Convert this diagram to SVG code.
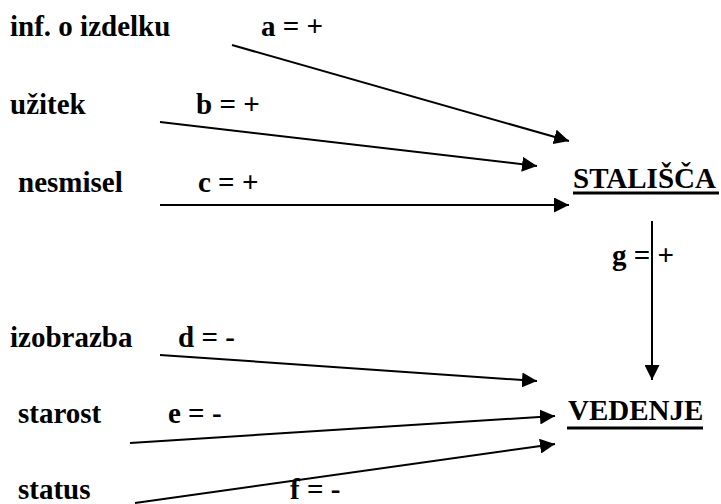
<svg xmlns="http://www.w3.org/2000/svg" width="721" height="504" viewBox="0 0 721 504">
<defs>
<marker id="ah" viewBox="0 0 15 15" refX="15" refY="7.5" markerWidth="15" markerHeight="15" markerUnits="userSpaceOnUse" orient="auto">
<path d="M0,0 L15,7.5 L0,15 Z" fill="#000"/>
</marker>
<style>
text{font-family:'Liberation Serif','DejaVu Serif',serif;font-weight:700;font-size:29px;fill:#000}
.c line{stroke:#000;stroke-width:2;marker-end:url(#ah)}
.ul{stroke:#000;stroke-width:3}
</style>
</defs>
<rect width="721" height="504" fill="#fff"/>
<g id="inf"><text x="10" y="36">inf. o izdelku</text></g>
<g id="uzitek"><text x="10" y="114">užitek</text></g>
<g id="nesmisel"><text x="18" y="192">nesmisel</text></g>
<g id="izobrazba"><text x="10" y="347">izobrazba</text></g>
<g id="starost"><text x="18" y="423">starost</text></g>
<g id="status"><text x="18" y="499">status</text></g>
<g id="stalisca"><text x="573" y="188">STALIŠČA</text><line class="ul" x1="573" y1="193" x2="719" y2="193"/></g>
<g id="vedenje"><text x="568" y="420">VEDENJE</text><line class="ul" x1="567" y1="428" x2="703" y2="428"/></g>
<g id="connectors" class="c">
<line x1="232" y1="45" x2="569" y2="141"/>
<line x1="160" y1="122" x2="537" y2="166"/>
<line x1="160" y1="205" x2="569" y2="205"/>
<line x1="652" y1="221" x2="652" y2="380"/>
<line x1="160" y1="355" x2="537" y2="381"/>
<line x1="130" y1="443" x2="555" y2="416"/>
<line x1="135" y1="503" x2="555" y2="444"/>
</g>
<g id="labels">
<text x="261" y="36">a = +</text>
<text x="196" y="114">b = +</text>
<text x="198" y="192">c = +</text>
<text x="612" y="265">g = +</text>
<text x="178" y="347">d = -</text>
<text x="168" y="423">e = -</text>
<text x="290" y="499">f = -</text>
</g>
</svg>
